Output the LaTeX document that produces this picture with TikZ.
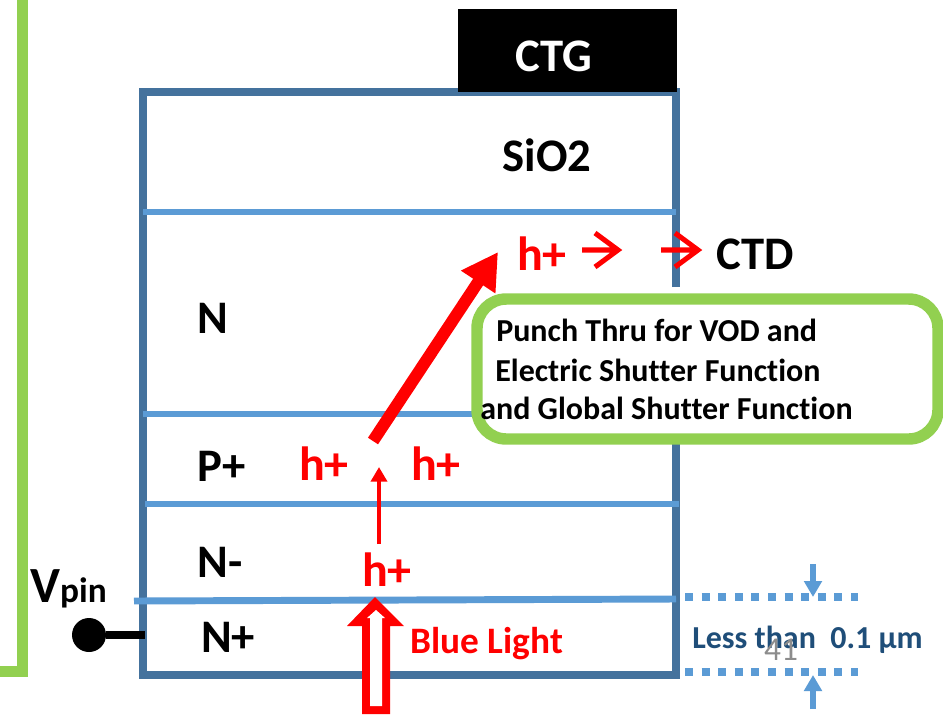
\documentclass[tikz,border=0pt]{standalone}
\usepackage{fontspec}
\setmainfont[Ligatures=NoCommon]{Carlito}
\usetikzlibrary{arrows.meta}
\definecolor{framecol}{HTML}{44729D}
\definecolor{layercol}{HTML}{5B9BD5}
\definecolor{calloutcol}{HTML}{92D050}
\definecolor{notecol}{HTML}{1F4E79}
\tikzset{
  layer/.style={draw=layercol, line width=5.2pt},
  lbl/.style={font=\fontsize{35}{40}\selectfont\bfseries, inner sep=0pt},
  hole/.style={font=\fontsize{36}{40}\selectfont\bfseries, text=red, inner sep=0pt},
  calloutline/.style={font=\fontsize{24}{28}\selectfont\bfseries, anchor=west, inner sep=0pt},
  openarrow/.style={draw=red, line width=3.8pt},
  gaugedot/.style={draw=layercol, line width=6pt, dash pattern=on 6pt off 6.45pt},
  gaugearrow/.style={draw=layercol, line width=4.4pt, -{Triangle[length=12pt, width=13pt]}}
}

\begin{document}
\begin{tikzpicture}[x=0.75pt, y=-0.75pt]
  \useasboundingbox (0,0) rectangle (943,715);
  \fill[white] (0,0) rectangle (943,715);
  \draw[calloutcol, line width=8.2pt, line cap=butt, miter limit=10] (22.5,0) |- (0,671.5);
  % frame and layers
  \draw[framecol, line width=6pt] (676,287) -- (676,92) -- (143,92) -- (143,675) -- (676,675) -- (676,437);
  \node[fill=black, minimum width=164.25pt, minimum height=62.25pt, inner sep=0pt] (ctg) at (567.5,50.5) {};
  \node[lbl, text=white] at (553.5,56) {CTG};
  \foreach \y/\xa/\xb in {212/143/676, 414/143/480, 504/145/679}
    \draw[layer] (\xa,\y) -- (\xb,\y);
  \draw[layer] (134,601) -- (676,599);
  \node[lbl] (sio) at (547,155) {SiO2};
  \node[lbl] (nreg) at (213,318) {N};
  \node[lbl] (preg) at (222,466) {P+};
  \node[lbl] (nminus) at (220,562) {N-};
  \node[lbl] (nplus) at (228,637) {N+};
  % pin
  \node[inner sep=0pt, anchor=base west] (vpin) at (30,602) {\bfseries\fontsize{38}{44}\selectfont V\fontsize{26.5}{30}\selectfont pin};
  \node[circle, fill=black, minimum size=25.5pt, inner sep=0pt] (pindot) at (89,635) {};
  \coordinate (pinend) at (145,635);
  \draw[line width=5.6pt] (pindot) -- (pinend);
  % holes
  \node[hole] (hleft) at (324,464) {h+};
  \node[hole] (hright) at (436,464) {h+};
  \node[hole] (hlow) at (387,570) {h+};
  \node[hole] (htop) at (542,254) {h+};
  \node[lbl] (ctd) at (755,254) {CTD};
  \coordinate (drifta) at (582,250);
  \coordinate (driftb) at (618,250);
  \coordinate (driftc) at (661,250);
  \coordinate (driftd) at (698,250);
  \draw[openarrow] (drifta) -- (driftb) (driftb)+(-23,-17) -- (driftb) -- +(-23,17);
  \draw[openarrow] (driftc) -- (driftd) (driftd)+(-23,-17) -- (driftd) -- +(-23,17);
  \coordinate (riseA) at (379,544);
  \coordinate (riseB) at (379,467);
  \draw[draw=red, line width=3pt, -{Triangle[length=11pt, width=12pt]}] (riseA) -- (riseB);
  \coordinate (punchA) at (373,441);
  \coordinate (punchB) at (498,252);
  \draw[draw=red, line width=9pt, -{Triangle[length=27pt, width=29pt]}] (punchA) -- (punchB);
  % light arrow
  \fill[red] (375,597) -- (404,626) -- (390,626) -- (390,714) -- (362,714) -- (362,626) -- (347,626) -- cycle;
  \fill[white] (376,610) -- (385,618) -- (382,618) -- (382,706) -- (370,706) -- (370,618) -- (367,618) -- cycle;
  \node[font=\fontsize{28}{32}\selectfont\bfseries, text=red, anchor=west, inner sep=0pt] (blue) at (410,644) {Blue Light};
  % callout
  \draw[draw=calloutcol, fill=white, line width=8.6pt, rounded corners=22pt] (477,299) rectangle (938,439);
  \node[calloutline] (punch) at (496,330) {Punch Thru for VOD and};
  \node[calloutline] (elec) at (495,370) {Electric Shutter Function};
  \node[calloutline] (glob) at (480,408) {and Global Shutter Function};
  % gauge
  \draw[gaugedot] (685,597) -- (858,597);
  \draw[gaugedot] (685,672) -- (858,672);
  \coordinate (gaugeA) at (813,564);
  \coordinate (gaugeB) at (813,597);
  \coordinate (gaugeC) at (813,709);
  \coordinate (gaugeD) at (813,675);
  \draw[gaugearrow] (gaugeA) -- (gaugeB);
  \draw[gaugearrow] (gaugeC) -- (gaugeD);
  \node[font=\fontsize{24}{28}\selectfont\bfseries, text=notecol, anchor=west, inner sep=0pt] (note) at (692,640) {Less than\ \ 0.1 µm};
  \node[font=\fontsize{25}{29}\selectfont, text=black!45, inner sep=0pt] (pageno) at (781,650) {41};
\end{tikzpicture}
\end{document}
